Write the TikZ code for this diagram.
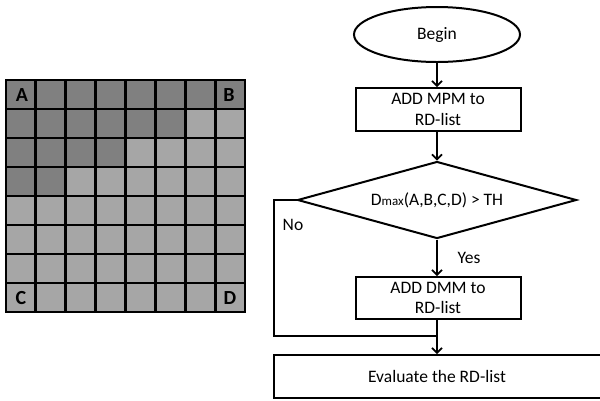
\documentclass[tikz,border=0pt]{standalone}
\usepackage{fontspec}
\setmainfont{Carlito}
\usetikzlibrary{shapes.geometric,arrows.meta}
\definecolor{darkcell}{HTML}{808080}
\definecolor{lightcell}{HTML}{A6A6A6}
\begin{document}
\begin{tikzpicture}[x=1pt,y=-1pt,
  flow/.style={draw=black,line width=2pt,fill=white,font=\fontsize{17.5}{20.5}\selectfont,align=center,inner sep=0pt},
  boxnode/.style={flow,rectangle,minimum width=165pt,minimum height=43pt},
  conn/.style={draw=black,line width=2pt},
  arr/.style={conn,-{Straight Barb[length=5pt,width=10pt,line width=1.6pt]}},
  lbl/.style={font=\fontsize{17.5}{20}\selectfont,inner sep=0pt},
  cornerlbl/.style={font=\fontsize{20}{20}\bfseries\selectfont,inner sep=0pt}]
\useasboundingbox (0,0) rectangle (600,400);
\clip (0,0) rectangle (600,400);
% grid
\def\gx{6}\def\gy{80}\def\cw{29.875}\def\ch{29}
\foreach \r in {0,...,7}{
  \foreach \c in {0,...,7}{
    \pgfmathsetmacro{\isdark}{(\r==0) || (\r==1 && \c<6) || (\r==2 && \c<4) || (\r==3 && \c<2) ? 1 : 0}
    \ifdim\isdark pt>0.5pt
      \fill[darkcell] (\gx+\c*\cw,\gy+\r*\ch) rectangle ++(\cw,\ch);
    \else
      \fill[lightcell] (\gx+\c*\cw,\gy+\r*\ch) rectangle ++(\cw,\ch);
    \fi
  }
}
\foreach \i in {0,...,8}{
  \draw[line width=2.8pt,line cap=rect] (\gx+\i*\cw,\gy) -- (\gx+\i*\cw,\gy+8*\ch);
  \draw[line width=2.8pt,line cap=rect] (\gx,\gy+\i*\ch) -- (\gx+8*\cw,\gy+\i*\ch);
}
\node[cornerlbl] (A) at (22,95.5) {A};
\node[cornerlbl] (B) at (229,95.5) {B};
\node[cornerlbl] (C) at (21,298) {C};
\node[cornerlbl] (D) at (230,298) {D};
% flowchart
\node[flow,ellipse,minimum width=166pt,minimum height=55pt] (begin) at (437,34.5) {Begin};
\node[boxnode] (mpm) at (438,109.5) {ADD MPM to\\RD-list};
\node[flow,diamond,aspect=3.6,minimum width=279pt,minimum height=77pt] (dec) at (437,200) {D{\fontsize{13}{13}\selectfont max}(A,B,C,D) > TH};
\node[boxnode,minimum height=42pt] (dmm) at (438,298) {ADD DMM to\\RD-list};
\node[boxnode,minimum width=330pt,minimum height=43pt] (eval) at (439,376.5) {};
\node[lbl] (evaltxt) at (437,376.5) {Evaluate the RD-list};
\coordinate (nocorner) at (274,200);
\coordinate (nobottom) at (274,336);
\coordinate (join) at (437,336);
\draw[arr] (begin.south) -- (mpm.north -| begin.south);
\draw[arr] (mpm.south -| dec.north) -- (dec.north);
\draw[arr] (dec.south) -- (dec.south |- dmm.north);
\draw[conn] (dmm.south -| join) -- (join);
\draw[conn] (dec.west) -- (nocorner) -- (nobottom) -- (join);
\draw[arr] (join) -- (eval.north -| join);
\node[lbl] (no) at (293,225) {No};
\node[lbl] (yes) at (469,258) {Yes};
\end{tikzpicture}
\end{document}
